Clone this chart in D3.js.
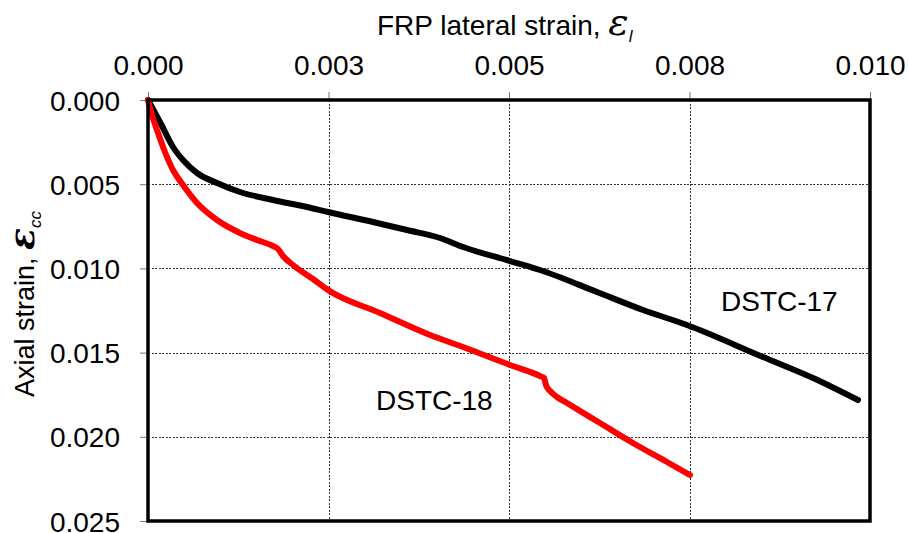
<!DOCTYPE html>
<html>
<head>
<meta charset="utf-8">
<script src="https://cdn.jsdelivr.net/npm/d3@7"></script>
<style>
  html, body { margin: 0; padding: 0; background: #fff; }
  svg { display: block; font-family: "Liberation Sans", Arial, sans-serif; }
</style>
</head>
<body>
<svg id="chart" width="909" height="533"></svg>
<script>
// FRP lateral strain (x) vs axial strain (y, increasing downward)
const xTicks = [0, 0.0025, 0.005, 0.0075, 0.010];
const xTickLabels = ["0.000", "0.003", "0.005", "0.008", "0.010"];
const yTicks = [0, 0.005, 0.010, 0.015, 0.020, 0.025];
const yTickLabels = ["0.000", "0.005", "0.010", "0.015", "0.020", "0.025"];

// DSTC-17
const dstc17Lateral = [0, 0.000180, 0.000346, 0.000485, 0.000679, 0.000956, 0.001274, 0.001731,
  0.002202, 0.002493, 0.003116, 0.003587, 0.004044, 0.004363, 0.005014, 0.005429, 0.006219,
  0.006856, 0.007465, 0.008518, 0.009211, 0.009834];
const dstc17Axial = [0, 0.001425, 0.002791, 0.003563, 0.004335, 0.004929, 0.005463, 0.005938,
  0.006354, 0.006650, 0.007245, 0.007720, 0.008195, 0.008729, 0.009561, 0.010095, 0.011401,
  0.012470, 0.013361, 0.015261, 0.016508, 0.017815];

// DSTC-18
const dstc18Lateral = [0, 0.000055, 0.000139, 0.000235, 0.000346, 0.000485, 0.000679, 0.000956,
  0.001274, 0.001510, 0.001731, 0.001801, 0.001870, 0.002008, 0.002285, 0.002493, 0.003213,
  0.003906, 0.004363, 0.005014, 0.005429, 0.005485, 0.005512, 0.005568, 0.005665, 0.005803,
  0.006260, 0.006717, 0.007188, 0.007507];
const dstc18Axial = [0, 0.000891, 0.001960, 0.003088, 0.004157, 0.005048, 0.006116, 0.007126,
  0.007898, 0.008314, 0.008670, 0.008848, 0.009264, 0.009798, 0.010629, 0.011283, 0.012648,
  0.013955, 0.014667, 0.015736, 0.016390, 0.016508, 0.016924, 0.017280, 0.017637, 0.017993,
  0.019181, 0.020368, 0.021496, 0.022268];

const svg = d3.select("#chart");
const plot = { left: 148, right: 870, top: 100, bottom: 521 };

const x = d3.scaleLinear().domain([0, 0.010]).range([plot.left, plot.right]);
const y = d3.scaleLinear().domain([0, 0.025]).range([plot.top, plot.bottom]);

// gridlines
const grid = svg.append("g").attr("stroke", "#333").attr("stroke-width", 1)
  .attr("stroke-dasharray", "2,1.5").attr("shape-rendering", "crispEdges");
grid.selectAll("line.v").data(xTicks.slice(1, -1)).join("line")
  .attr("x1", d => Math.round(x(d)) + 0.5).attr("x2", d => Math.round(x(d)) + 0.5)
  .attr("y1", plot.top).attr("y2", plot.bottom);
grid.selectAll("line.h").data(yTicks.slice(1, -1)).join("line")
  .attr("x1", plot.left).attr("x2", plot.right)
  .attr("y1", d => Math.round(y(d)) + 0.5).attr("y2", d => Math.round(y(d)) + 0.5);

// axes
const xAxis = d3.axisTop(x).tickValues(xTicks)
  .tickFormat((d, i) => xTickLabels[i]).tickSize(8).tickPadding(17);
const gx = svg.append("g").attr("transform", `translate(0,${plot.top})`).call(xAxis);
gx.select(".domain").remove();
gx.selectAll(".tick line").attr("stroke", "#777");
gx.selectAll(".tick text").attr("font-size", 28).attr("fill", "#000")
  .attr("font-family", "Liberation Sans, Arial, sans-serif");

const yAxis = d3.axisLeft(y).tickValues(yTicks)
  .tickFormat((d, i) => yTickLabels[i]).tickSize(8).tickPadding(20);
const gy = svg.append("g").attr("transform", `translate(${plot.left},0)`).call(yAxis);
gy.select(".domain").remove();
gy.selectAll(".tick line").attr("stroke", "#777");
gy.selectAll(".tick text").attr("font-size", 28).attr("fill", "#000").attr("dy", "0.36em")
  .attr("font-family", "Liberation Sans, Arial, sans-serif");

// curves
const curve = d3.line().x(d => x(d[0])).y(d => y(d[1])).curve(d3.curveMonotoneX);
const s17 = dstc17Lateral.map((v, i) => [v, dstc17Axial[i]]);
const s18 = dstc18Lateral.map((v, i) => [v, dstc18Axial[i]]);

svg.append("path").datum(s17).attr("d", curve)
  .attr("fill", "none").attr("stroke", "#000").attr("stroke-width", 6)
  .attr("stroke-linecap", "round").attr("stroke-linejoin", "round");
svg.append("path").datum(s18).attr("d", curve)
  .attr("fill", "none").attr("stroke", "#ff0000").attr("stroke-width", 6)
  .attr("stroke-linecap", "round").attr("stroke-linejoin", "round");

// plot frame
svg.append("rect").attr("x", plot.left).attr("y", plot.top)
  .attr("width", plot.right - plot.left).attr("height", plot.bottom - plot.top)
  .attr("fill", "none").attr("stroke", "#000").attr("stroke-width", 3.5);

// series labels
svg.append("text").attr("x", 721).attr("y", 311).attr("font-size", 28).text("DSTC-17");
svg.append("text").attr("x", 376).attr("y", 410).attr("font-size", 28).text("DSTC-18");

// axis titles
const xt = svg.append("text").attr("x", 377).attr("y", 35).attr("font-size", 28);
xt.append("tspan").text("FRP lateral strain, ");
xt.append("tspan").attr("font-family", "DejaVu Serif, serif").attr("font-style", "italic")
  .attr("font-size", 38).text("ε");
xt.append("tspan").attr("font-style", "italic").attr("font-size", 17).attr("dy", 7).text("l");

const yt = svg.append("text").attr("transform", "translate(34,397) rotate(-90)")
  .attr("font-size", 27);
yt.append("tspan").text("Axial strain, ");
yt.append("tspan").attr("font-family", "DejaVu Serif, serif").attr("font-style", "italic")
  .attr("font-size", 36).attr("font-weight", "bold").text("ε");
yt.append("tspan").attr("font-style", "italic").attr("font-size", 17).attr("dy", 7).text("cc");
</script>
</body>
</html>
